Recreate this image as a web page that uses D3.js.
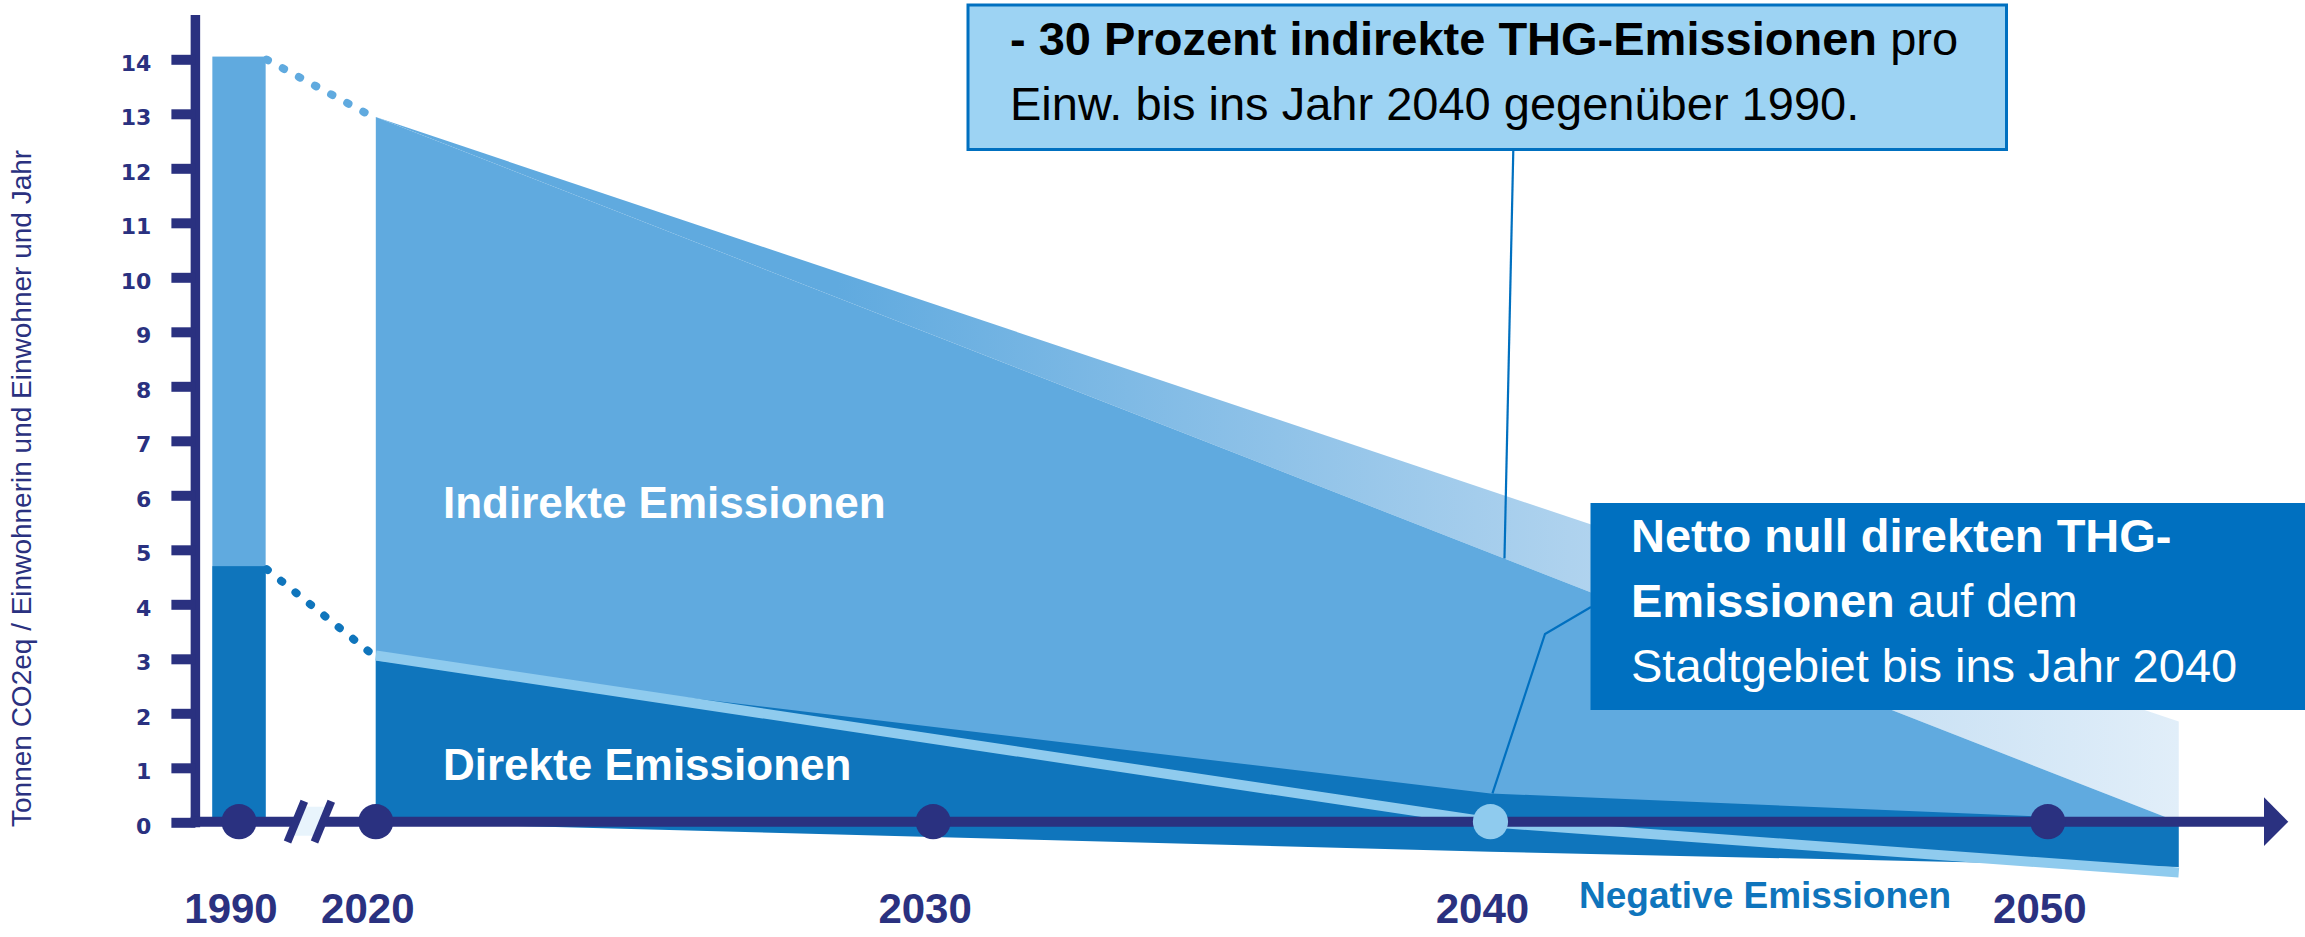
<!DOCTYPE html>
<html><head><meta charset="utf-8">
<script src="https://cdn.jsdelivr.net/npm/d3@7"></script>
<style>body{margin:0;background:#fff}svg{display:block}</style>
</head><body>
<svg id="chart" width="2305" height="937"></svg>
<script>
// ---------- data ----------
const axisYears = [1990, 2020, 2030, 2040, 2050];
const yTicks = [0,1,2,3,4,5,6,7,8,9,10,11,12,13,14];
const bar1990Total = 14.05;   // direkte + indirekte 1990
const bar1990Direct = 4.70;   // direkte 1990
const indirectYears = [2020, 2052.35];
const indirectTrend = [12.94, 1.85];   // äußere (verblassende) Linie
const indirectTarget = [12.94, 0];     // Zielpfad indirekte
const pathYears = [2020, 2040, 2052.35];
const directTop = [2.97, 0.53, 0];     // direkte Emissionen
const negative = [0, -0.54, -0.82];    // negative Emissionen
const netLine = [3.06, 0, -0.92];      // netto
const yTitle = "Tonnen CO2eq / Einwohnerin und Einwohner und Jahr";

const C = {
  navy: "#2a3180", indirect: "#60aadf", direct: "#0f75bc", stripe: "#8fcbee",
  box1: "#9dd3f3", box2: "#0070c0", pale: "#e1eef9", breakFill: "#e8f4fc"
};
const FONT = "'Liberation Sans', Arial, Helvetica, sans-serif";

const svg = d3.select("#chart");
const x = d3.scaleLinear().domain([1990, 2020, 2050]).range([239, 375.8, 2047.8]);
const y = d3.scaleLinear().domain([0, 14]).range([822.3, 59.3]);

// gradient for fading band
const defs = svg.append("defs");
const grad = defs.append("linearGradient").attr("id", "fade")
  .attr("gradientUnits", "userSpaceOnUse")
  .attr("x1", x(2025)).attr("x2", x(indirectYears[1])).attr("y1", 0).attr("y2", 0);
grad.append("stop").attr("offset", 0).attr("stop-color", C.indirect);
grad.append("stop").attr("offset", 0.12).attr("stop-color", C.indirect);
grad.append("stop").attr("offset", 0.6).attr("stop-color", "#aed2ee");
grad.append("stop").attr("offset", 1).attr("stop-color", C.pale);

const indPts = indirectYears.map((yr, i) => ({yr, outer: indirectTrend[i], inner: indirectTarget[i]}));
// band between trend and target
svg.append("path").datum(indPts)
  .attr("d", d3.area().x(d => x(d.yr)).y0(d => y(d.inner)).y1(d => y(d.outer)))
  .attr("fill", "url(#fade)");
// solid indirect area
svg.append("path").datum(indPts)
  .attr("d", d3.area().x(d => x(d.yr)).y0(y(0)).y1(d => y(d.inner)))
  .attr("fill", C.indirect);

// direct area (incl. negative)
const dirPts = pathYears.map((yr, i) => ({yr, top: directTop[i], bot: negative[i], net: netLine[i]}));
svg.append("path").datum(dirPts)
  .attr("d", d3.area().x(d => x(d.yr)).y0(d => y(d.bot)).y1(d => y(d.top)))
  .attr("fill", C.direct);
// net stripe
svg.append("path").datum(dirPts)
  .attr("d", d3.line().x(d => x(d.yr)).y(d => y(d.net)))
  .attr("fill", "none").attr("stroke", C.stripe).attr("stroke-width", 10);

// 1990 bar
const barW = 53.3;
svg.append("rect").attr("x", x(1990) - barW / 2).attr("width", barW)
  .attr("y", y(bar1990Total)).attr("height", y(0) - y(bar1990Total)).attr("fill", C.indirect);
svg.append("rect").attr("x", x(1990) - barW / 2).attr("width", barW)
  .attr("y", y(bar1990Direct)).attr("height", y(0) - y(bar1990Direct)).attr("fill", C.direct);

// dotted connections
svg.append("line")
  .attr("x1", x(1990) + barW / 2 + 1).attr("y1", y(bar1990Total) + 3)
  .attr("x2", x(2020) - 10).attr("y2", y(indirectTrend[0]) - 4)
  .attr("stroke", C.indirect).attr("stroke-width", 8).attr("stroke-linecap", "round")
  .attr("stroke-dasharray", "1.5 16.8");
svg.append("line")
  .attr("x1", x(1990) + barW / 2 + 1).attr("y1", y(bar1990Direct) + 3)
  .attr("x2", x(2020) - 7).attr("y2", y(netLine[0]) - 4)
  .attr("stroke", C.direct).attr("stroke-width", 8).attr("stroke-linecap", "round")
  .attr("stroke-dasharray", "1.5 17");

// y axis
const axX = 195.4;
svg.append("line").attr("x1", axX).attr("x2", axX).attr("y1", 15).attr("y2", y(0) + 5)
  .attr("stroke", C.navy).attr("stroke-width", 9.5);
const ya = svg.append("g").attr("transform", `translate(${axX},0)`)
  .call(d3.axisLeft(y).tickValues(yTicks).tickSize(24).tickPadding(20).tickFormat(d3.format("d")));
ya.select(".domain").remove();
ya.selectAll(".tick line").attr("stroke", C.navy).attr("stroke-width", 10);
ya.selectAll(".tick text").attr("fill", C.navy)
  .style("font-family", "'DejaVu Sans', sans-serif").style("font-weight", "bold")
  .style("font-size", "22px").attr("dy", "0.5em");

// x axis line + arrow
const ax0 = y(0) - 0.6;
svg.append("line").attr("x1", axX - 4.7).attr("x2", 2266).attr("y1", ax0).attr("y2", ax0)
  .attr("stroke", C.navy).attr("stroke-width", 10);
svg.append("path")
  .attr("d", `M2264,${ax0 - 24.4}L2288.3,${ax0}L2264,${ax0 + 24.4}Z`).attr("fill", C.navy);

// axis break
const bx = (x(1990) + x(2020)) / 2 + 2;
svg.append("path")
  .attr("d", `M${bx - 16},${ax0 + 14}L${bx - 4},${ax0 - 15}L${bx + 19},${ax0 - 15}L${bx + 7},${ax0 + 14}Z`)
  .attr("fill", C.breakFill);
[-13.5, 13.5].forEach(o => {
  svg.append("line")
    .attr("x1", bx + o - 8.4).attr("y1", ax0 + 20.4)
    .attr("x2", bx + o + 8.4).attr("y2", ax0 - 20.4)
    .attr("stroke", C.navy).attr("stroke-width", 8);
});

// dots on axis
svg.selectAll("circle.yr").data(axisYears).join("circle")
  .attr("class", "yr").attr("cx", d => x(d)).attr("cy", ax0).attr("r", 17.6)
  .attr("fill", d => d === 2040 ? C.stripe : C.navy);

// year labels
svg.selectAll("text.yr").data(axisYears).join("text")
  .attr("class", "yr").attr("x", d => x(d) - 8).attr("y", 923)
  .attr("text-anchor", "middle").attr("fill", C.navy)
  .style("font-family", FONT).style("font-weight", "bold").style("font-size", "42px")
  .text(d => d);

// y title
svg.append("text").attr("transform", `translate(31,827) rotate(-90)`)
  .attr("fill", C.navy).style("font-family", FONT).style("font-size", "28px")
  .text(yTitle);

// area labels
svg.append("text").attr("x", 443).attr("y", 518).attr("fill", "#fff")
  .style("font-family", FONT).style("font-weight", "bold").style("font-size", "44px")
  .text("Indirekte Emissionen");
svg.append("text").attr("x", 443).attr("y", 780).attr("fill", "#fff")
  .style("font-family", FONT).style("font-weight", "bold").style("font-size", "44px")
  .text("Direkte Emissionen");
svg.append("text").attr("x", 1579).attr("y", 908).attr("fill", C.direct)
  .style("font-family", FONT).style("font-weight", "bold").style("font-size", "37px")
  .text("Negative Emissionen");

// connectors
svg.append("path")
  .attr("d", `M1513.3,150L${x(2040) + 14},${y(indirectTarget[0] + (indirectTarget[1] - indirectTarget[0]) * ((2040.25 - 2020) / (indirectYears[1] - 2020)))}`)
  .attr("fill", "none").attr("stroke", C.box2).attr("stroke-width", 2.2);
svg.append("path")
  .attr("d", `M1591,607L1545,634L${x(2040) + 2},${y(directTop[1])}`)
  .attr("fill", "none").attr("stroke", C.box2).attr("stroke-width", 2.2);

// callout 1
svg.append("rect").attr("x", 968).attr("y", 5).attr("width", 1038.5).attr("height", 144.5)
  .attr("fill", C.box1).attr("stroke", C.box2).attr("stroke-width", 3);
const t1 = svg.append("text").attr("fill", "#000").style("font-family", FONT).style("font-size", "47px");
const l1 = t1.append("tspan").attr("x", 1010).attr("y", 55);
l1.append("tspan").style("font-weight", "bold").text("- 30 Prozent indirekte THG-Emissionen");
l1.append("tspan").text(" pro");
t1.append("tspan").attr("x", 1010).attr("y", 120).text("Einw. bis ins Jahr 2040 gegenüber 1990.");

// callout 2
svg.append("rect").attr("x", 1590.5).attr("y", 503).attr("width", 714.5).attr("height", 207)
  .attr("fill", C.box2);
const t2 = svg.append("text").attr("fill", "#fff").style("font-family", FONT).style("font-size", "47px");
t2.append("tspan").attr("x", 1631).attr("y", 552).style("font-weight", "bold").text("Netto null direkten THG-");
const l22 = t2.append("tspan").attr("x", 1631).attr("y", 617);
l22.append("tspan").style("font-weight", "bold").text("Emissionen");
l22.append("tspan").text(" auf dem");
t2.append("tspan").attr("x", 1631).attr("y", 682).text("Stadtgebiet bis ins Jahr 2040");
</script>
</body></html>
